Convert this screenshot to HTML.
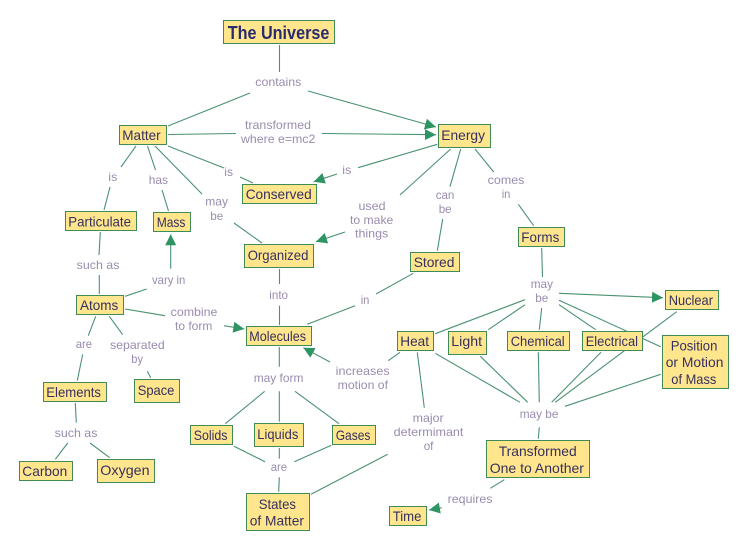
<!DOCTYPE html>
<html><head><meta charset="utf-8"><title>The Universe</title>
<style>
html,body{margin:0;padding:0;background:#fff;width:749px;height:551px;overflow:hidden}
svg{display:block}
.l line{stroke:#4a9270;stroke-width:1.1}
.n rect{fill:#ffe68c;stroke:#3f8a55;stroke-width:1}
.n text{font-family:"Liberation Sans",sans-serif;font-size:14px;fill:#35305f}
.t text{font-family:"Liberation Sans",sans-serif;font-size:12px;fill:#9a8caf}
</style></head><body>
<svg width="749" height="551" viewBox="0 0 749 551" xmlns="http://www.w3.org/2000/svg">
<defs><marker id="a" markerUnits="userSpaceOnUse" markerWidth="12" markerHeight="12" refX="11" refY="5.5" orient="auto"><path d="M0 0L11 5.5L0 11Z" fill="#2f9463"/></marker></defs>
<g class="l">
<line x1="279.5" y1="45" x2="279.5" y2="72"/>
<line x1="250" y1="93" x2="168" y2="126"/>
<line x1="308" y1="91" x2="436" y2="127" marker-end="url(#a)"/>
<line x1="168" y1="134.5" x2="236" y2="133.5"/>
<line x1="322" y1="133.5" x2="436" y2="134.7" marker-end="url(#a)"/>
<line x1="136" y1="146" x2="121" y2="167"/>
<line x1="110" y1="187" x2="104" y2="210"/>
<line x1="147.5" y1="146" x2="155.5" y2="170"/>
<line x1="162" y1="190" x2="168.5" y2="211"/>
<line x1="155" y1="146" x2="202" y2="194"/>
<line x1="234" y1="223" x2="262" y2="243"/>
<line x1="168" y1="146" x2="224" y2="168"/>
<line x1="240" y1="177" x2="253" y2="183"/>
<line x1="437.3" y1="144.3" x2="358" y2="167.7"/>
<line x1="337" y1="174" x2="313.7" y2="181.7" marker-end="url(#a)"/>
<line x1="450.7" y1="149" x2="400" y2="195"/>
<line x1="345" y1="232" x2="316" y2="241.7" marker-end="url(#a)"/>
<line x1="460.7" y1="149" x2="450" y2="186.7"/>
<line x1="442.7" y1="219" x2="437.3" y2="250.7"/>
<line x1="475" y1="149" x2="493.7" y2="172"/>
<line x1="518.3" y1="204.3" x2="533.7" y2="225.7"/>
<line x1="541.7" y1="248" x2="542.5" y2="277"/>
<line x1="413.3" y1="273.3" x2="376" y2="294"/>
<line x1="355" y1="305.7" x2="307.3" y2="324.3"/>
<line x1="100.3" y1="232" x2="99" y2="255"/>
<line x1="99.3" y1="275" x2="99.3" y2="294"/>
<line x1="125" y1="296.3" x2="146.7" y2="289"/>
<line x1="170.7" y1="268.7" x2="170.7" y2="234.3" marker-end="url(#a)"/>
<line x1="279.5" y1="269" x2="279.5" y2="284"/>
<line x1="279.5" y1="305.7" x2="279.5" y2="325"/>
<line x1="125" y1="309" x2="165" y2="315.7"/>
<line x1="224" y1="325.7" x2="244.3" y2="329" marker-end="url(#a)"/>
<line x1="95.7" y1="316.3" x2="88.3" y2="335.7"/>
<line x1="82.7" y1="354.3" x2="77.3" y2="380.7"/>
<line x1="109.3" y1="316.3" x2="122.7" y2="334.7"/>
<line x1="147.3" y1="371.3" x2="150.7" y2="377.7"/>
<line x1="75.3" y1="403" x2="76.3" y2="422.7"/>
<line x1="67.7" y1="443" x2="55.3" y2="459.3"/>
<line x1="90" y1="443" x2="109.7" y2="457.7"/>
<line x1="279.3" y1="347" x2="279.3" y2="366.7"/>
<line x1="264.7" y1="391.3" x2="225.3" y2="423.7"/>
<line x1="279.3" y1="391.3" x2="279.3" y2="421.7"/>
<line x1="295" y1="391.3" x2="339" y2="423.7"/>
<line x1="234" y1="446.3" x2="265" y2="461.7"/>
<line x1="279.3" y1="448" x2="279.3" y2="458.7"/>
<line x1="331.3" y1="445.3" x2="294.3" y2="461.7"/>
<line x1="279.3" y1="477.3" x2="278.7" y2="491.7"/>
<line x1="311" y1="494.3" x2="387.7" y2="454.3"/>
<line x1="417.3" y1="352.3" x2="424.3" y2="407.7"/>
<line x1="400" y1="352.3" x2="388.3" y2="360.7"/>
<line x1="330" y1="362" x2="303.3" y2="347.7" marker-end="url(#a)"/>
<line x1="559" y1="293.3" x2="663" y2="297.7" marker-end="url(#a)"/>
<line x1="525" y1="299.7" x2="435.3" y2="333.7"/>
<line x1="525" y1="304.7" x2="488.3" y2="329.7"/>
<line x1="541.7" y1="308" x2="539.3" y2="329.7"/>
<line x1="559" y1="304.7" x2="595.7" y2="329.7"/>
<line x1="559" y1="300.3" x2="660.7" y2="346.7"/>
<line x1="676.7" y1="311.7" x2="555.3" y2="402.3"/>
<line x1="601" y1="352.3" x2="551.7" y2="402.3"/>
<line x1="435.3" y1="353.3" x2="520" y2="402.3"/>
<line x1="480.3" y1="356.3" x2="527.7" y2="402.3"/>
<line x1="538.3" y1="352.3" x2="539.3" y2="402.3"/>
<line x1="660.7" y1="374.3" x2="565" y2="406.3"/>
<line x1="539.3" y1="427.3" x2="538.3" y2="438.7"/>
<line x1="504.3" y1="479.7" x2="490.3" y2="488.3"/>
<line x1="441.7" y1="507.7" x2="429" y2="510" marker-end="url(#a)"/>
</g>
<g class="n">
<rect x="223.5" y="20.5" width="111" height="23"/>
<rect x="119.5" y="125.5" width="47" height="19"/>
<rect x="242.5" y="184.5" width="74" height="19"/>
<rect x="65.5" y="211.5" width="71" height="19"/>
<rect x="153.5" y="212.5" width="37" height="19"/>
<rect x="244.5" y="244.5" width="69" height="23"/>
<rect x="438.5" y="124.5" width="52" height="23"/>
<rect x="410.5" y="252.5" width="49" height="19"/>
<rect x="518.5" y="227.5" width="46" height="19"/>
<rect x="76.5" y="295.5" width="47" height="19"/>
<rect x="246.5" y="326.5" width="65" height="19"/>
<rect x="43.5" y="382.5" width="63" height="19"/>
<rect x="134.5" y="379.5" width="45" height="23"/>
<rect x="190.5" y="425.5" width="42" height="19"/>
<rect x="254.5" y="423.5" width="49" height="23"/>
<rect x="332.5" y="425.5" width="43" height="19"/>
<rect x="19.5" y="461.5" width="53" height="19"/>
<rect x="97.5" y="459.5" width="57" height="23"/>
<rect x="246.5" y="493.5" width="63" height="37"/>
<rect x="665.5" y="290.5" width="53" height="19"/>
<rect x="397.5" y="331.5" width="36" height="19"/>
<rect x="448.5" y="331.5" width="38" height="23"/>
<rect x="507.5" y="331.5" width="62" height="19"/>
<rect x="582.5" y="331.5" width="60" height="19"/>
<rect x="662.5" y="335.5" width="66" height="53"/>
<rect x="486.5" y="440.5" width="103" height="37"/>
<rect x="389.5" y="506.5" width="37" height="19"/>
<text x="227.7" y="39" font-size="18" font-weight="bold" style="font-size:18px;font-weight:bold;fill:#2a2a6e" textLength="101.7" lengthAdjust="spacingAndGlyphs">The Universe</text>
<text x="122.3" y="140" textLength="38.3" lengthAdjust="spacingAndGlyphs">Matter</text>
<text x="245.7" y="199" textLength="66" lengthAdjust="spacingAndGlyphs">Conserved</text>
<text x="68.3" y="226.3" textLength="62.7" lengthAdjust="spacingAndGlyphs">Particulate</text>
<text x="156.7" y="227" textLength="28.7" lengthAdjust="spacingAndGlyphs">Mass</text>
<text x="247.7" y="260" textLength="60.7" lengthAdjust="spacingAndGlyphs">Organized</text>
<text x="441.3" y="140" textLength="43.7" lengthAdjust="spacingAndGlyphs">Energy</text>
<text x="413.7" y="267" textLength="40.7" lengthAdjust="spacingAndGlyphs">Stored</text>
<text x="521.3" y="242" textLength="38" lengthAdjust="spacingAndGlyphs">Forms</text>
<text x="80" y="310" textLength="38.3" lengthAdjust="spacingAndGlyphs">Atoms</text>
<text x="249.3" y="341" textLength="56.7" lengthAdjust="spacingAndGlyphs">Molecules</text>
<text x="46.3" y="397" textLength="54.7" lengthAdjust="spacingAndGlyphs">Elements</text>
<text x="137.7" y="395" textLength="36.7" lengthAdjust="spacingAndGlyphs">Space</text>
<text x="193.7" y="440" textLength="33.7" lengthAdjust="spacingAndGlyphs">Solids</text>
<text x="257.3" y="439" textLength="41" lengthAdjust="spacingAndGlyphs">Liquids</text>
<text x="335.7" y="440" textLength="34.7" lengthAdjust="spacingAndGlyphs">Gases</text>
<text x="22.3" y="476" textLength="45" lengthAdjust="spacingAndGlyphs">Carbon</text>
<text x="100.3" y="475" textLength="49.3" lengthAdjust="spacingAndGlyphs">Oxygen</text>
<text x="258.7" y="509" textLength="37.3" lengthAdjust="spacingAndGlyphs">States</text>
<text x="249.7" y="525.7" textLength="54.3" lengthAdjust="spacingAndGlyphs">of Matter</text>
<text x="668.7" y="305" textLength="44.3" lengthAdjust="spacingAndGlyphs">Nuclear</text>
<text x="400.3" y="346" textLength="28.7" lengthAdjust="spacingAndGlyphs">Heat</text>
<text x="451.3" y="346" textLength="30.7" lengthAdjust="spacingAndGlyphs">Light</text>
<text x="510.7" y="346" textLength="54" lengthAdjust="spacingAndGlyphs">Chemical</text>
<text x="585.7" y="346" textLength="52.3" lengthAdjust="spacingAndGlyphs">Electrical</text>
<text x="670.7" y="350.3" textLength="46.7" lengthAdjust="spacingAndGlyphs">Position</text>
<text x="665.7" y="367" textLength="57.7" lengthAdjust="spacingAndGlyphs">or Motion</text>
<text x="671.3" y="384" textLength="45" lengthAdjust="spacingAndGlyphs">of Mass</text>
<text x="498.7" y="456" textLength="78" lengthAdjust="spacingAndGlyphs">Transformed</text>
<text x="489.7" y="473" textLength="94.3" lengthAdjust="spacingAndGlyphs">One to Another</text>
<text x="392.7" y="521" textLength="28.7" lengthAdjust="spacingAndGlyphs">Time</text>
</g>
<g class="t">
<text x="255.3" y="86" textLength="46" lengthAdjust="spacingAndGlyphs">contains</text>
<text x="245" y="129" textLength="66" lengthAdjust="spacingAndGlyphs">transformed</text>
<text x="241" y="143" textLength="74.3" lengthAdjust="spacingAndGlyphs">where e=mc2</text>
<text x="108.3" y="181" textLength="9" lengthAdjust="spacingAndGlyphs">is</text>
<text x="148.7" y="184" textLength="19.3" lengthAdjust="spacingAndGlyphs">has</text>
<text x="224.3" y="176" textLength="8.7" lengthAdjust="spacingAndGlyphs">is</text>
<text x="342.3" y="174" textLength="9" lengthAdjust="spacingAndGlyphs">is</text>
<text x="205.3" y="205.5" textLength="22.7" lengthAdjust="spacingAndGlyphs">may</text>
<text x="210.3" y="220" textLength="13" lengthAdjust="spacingAndGlyphs">be</text>
<text x="358.5" y="210" textLength="27" lengthAdjust="spacingAndGlyphs">used</text>
<text x="350" y="224" textLength="43.3" lengthAdjust="spacingAndGlyphs">to make</text>
<text x="355" y="237.5" textLength="33.3" lengthAdjust="spacingAndGlyphs">things</text>
<text x="435.7" y="199" textLength="18.7" lengthAdjust="spacingAndGlyphs">can</text>
<text x="438.7" y="213" textLength="13" lengthAdjust="spacingAndGlyphs">be</text>
<text x="487.7" y="184" textLength="36.7" lengthAdjust="spacingAndGlyphs">comes</text>
<text x="501.7" y="198" textLength="8.7" lengthAdjust="spacingAndGlyphs">in</text>
<text x="76.7" y="269" textLength="42.7" lengthAdjust="spacingAndGlyphs">such as</text>
<text x="152" y="284" textLength="33.3" lengthAdjust="spacingAndGlyphs">vary in</text>
<text x="269.3" y="299" textLength="18.7" lengthAdjust="spacingAndGlyphs">into</text>
<text x="360.7" y="304" textLength="8.7" lengthAdjust="spacingAndGlyphs">in</text>
<text x="170.7" y="316" textLength="46.7" lengthAdjust="spacingAndGlyphs">combine</text>
<text x="175" y="330" textLength="37.3" lengthAdjust="spacingAndGlyphs">to form</text>
<text x="75.7" y="348" textLength="16.3" lengthAdjust="spacingAndGlyphs">are</text>
<text x="110" y="349" textLength="54.7" lengthAdjust="spacingAndGlyphs">separated</text>
<text x="131.3" y="363" textLength="11.7" lengthAdjust="spacingAndGlyphs">by</text>
<text x="54.7" y="437" textLength="42.7" lengthAdjust="spacingAndGlyphs">such as</text>
<text x="253.7" y="382" textLength="49.7" lengthAdjust="spacingAndGlyphs">may form</text>
<text x="335.7" y="375" textLength="54" lengthAdjust="spacingAndGlyphs">increases</text>
<text x="337.7" y="389" textLength="50.3" lengthAdjust="spacingAndGlyphs">motion of</text>
<text x="270.7" y="471" textLength="16.3" lengthAdjust="spacingAndGlyphs">are</text>
<text x="412.7" y="422" textLength="31" lengthAdjust="spacingAndGlyphs">major</text>
<text x="393.7" y="436" textLength="69.7" lengthAdjust="spacingAndGlyphs">determimant</text>
<text x="423.7" y="450" textLength="9.7" lengthAdjust="spacingAndGlyphs">of</text>
<text x="530.7" y="288" textLength="22.3" lengthAdjust="spacingAndGlyphs">may</text>
<text x="535.3" y="302" textLength="13" lengthAdjust="spacingAndGlyphs">be</text>
<text x="519.7" y="418" textLength="38.7" lengthAdjust="spacingAndGlyphs">may be</text>
<text x="447.7" y="503" textLength="44.7" lengthAdjust="spacingAndGlyphs">requires</text>
</g>
</svg>
</body></html>
